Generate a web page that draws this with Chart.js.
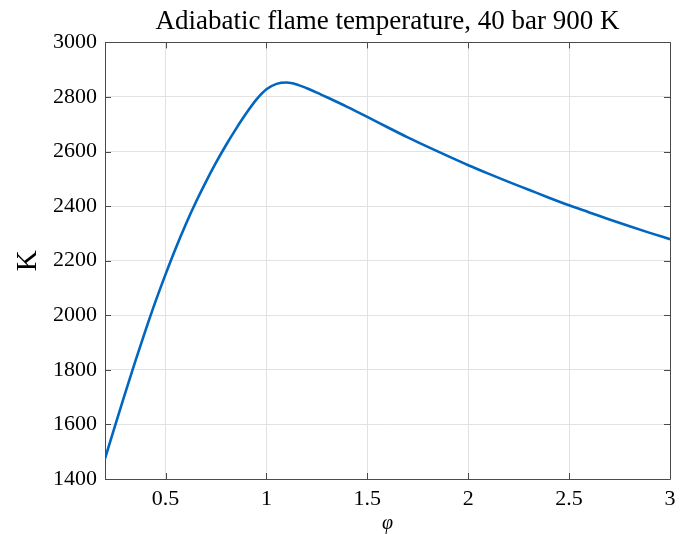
<!DOCTYPE html>
<html>
<head>
<meta charset="utf-8">
<script src="https://cdn.jsdelivr.net/npm/chart.js@4/dist/chart.umd.min.js"></script>
<style>
html,body{margin:0;padding:0;background:#fff;}
#wrap{width:690px;height:534px;}
</style>
</head>
<body>
<div id="wrap"><canvas id="c" width="690" height="534"></canvas></div>
<script>
// Data
const phi = [0.2,0.25,0.3,0.35,0.4,0.45,0.5,0.55,0.6,0.65,0.7,0.75,0.8,0.85,0.9,0.95,1.0,1.05,1.1,1.15,1.2,1.25,1.3,1.4,1.5,1.6,1.7,1.8,1.9,2.0,2.1,2.2,2.3,2.4,2.5,2.6,2.7,2.8,2.9,3.0];
const flameTemp = [1475,1596,1715,1831,1943,2050,2150,2245,2333,2414,2489,2559,2624,2684,2740,2790,2828,2848,2853,2846,2832,2816,2799,2764,2727,2689,2652,2617,2583,2550,2519,2489,2460,2431,2403,2377,2351,2326,2302,2279];
const xTickValues = [0.5,1,1.5,2,2.5,3];
const xTickLabels = ['0.5','1','1.5','2','2.5','3'];
const yTickValues = [1400,1600,1800,2000,2200,2400,2600,2800,3000];
const yTickLabels = ['1400','1600','1800','2000','2200','2400','2600','2800','3000'];
const titleText = 'Adiabatic flame temperature, 40 bar 900 K';
const xTitle = 'φ';
const yTitle = 'K';

const points = phi.map((x,i)=>({x:x,y:flameTemp[i]}));
const SERIF = "'Liberation Serif', 'DejaVu Serif', serif";
const AXIS_COLOR = '#4a4a4a';

const boxPlugin = {
  id:'boxTicks',
  afterDraw(chart){
    const ctx = chart.ctx, a = chart.chartArea;
    const xs = chart.scales.x, ys = chart.scales.y;
    ctx.save();
    ctx.strokeStyle = AXIS_COLOR;
    ctx.lineWidth = 1;
    ctx.beginPath();
    ctx.rect(Math.round(a.left)+0.5, Math.round(a.top)+0.5, Math.round(a.right-a.left), Math.round(a.bottom-a.top));
    ctx.stroke();
    const L = 6;
    ctx.beginPath();
    xTickValues.forEach(v=>{
      const px = Math.round(xs.getPixelForValue(v))+0.5;
      ctx.moveTo(px,a.bottom); ctx.lineTo(px,a.bottom-L);
      ctx.moveTo(px,a.top); ctx.lineTo(px,a.top+L);
    });
    yTickValues.forEach(v=>{
      const py = Math.round(ys.getPixelForValue(v))+0.5;
      ctx.moveTo(a.left,py); ctx.lineTo(a.left+L,py);
      ctx.moveTo(a.right,py); ctx.lineTo(a.right-L,py);
    });
    ctx.stroke();
    ctx.restore();
  }
};

new Chart(document.getElementById('c'), {
  type:'line',
  data:{datasets:[{
    data:points,
    borderColor:'#0066bf',
    borderWidth:2.6,
    pointRadius:0,
    cubicInterpolationMode:'monotone',
    fill:false
  }]},
  options:{
    responsive:false,
    animation:false,
    devicePixelRatio:1,
    layout:{padding:{left:0,right:20,top:0,bottom:0}},
    plugins:{
      legend:{display:false},
      tooltip:{enabled:false},
      title:{display:true,text:titleText,color:'#000',fullSize:false,
        font:{family:SERIF,size:27,weight:'normal'},padding:{top:6,bottom:4}}
    },
    scales:{
      x:{type:'linear',min:0.2,max:3,
        afterBuildTicks(s){ s.ticks = xTickValues.map(v=>({value:v})); },
        afterFit(s){ s.height = 55; },
        ticks:{color:'#000',font:{family:SERIF,size:22},padding:7,maxRotation:0,autoSkip:false,
          callback:(v)=>{const i=xTickValues.indexOf(v);return i>=0?xTickLabels[i]:'';}},
        grid:{color:'#e2e2e2',drawTicks:false},
        border:{display:false},
        title:{display:true,text:xTitle,color:'#000',font:{family:SERIF,size:20,style:'italic',lineHeight:1},padding:{top:0,bottom:0}}
      },
      y:{type:'linear',min:1400,max:3000,
        afterBuildTicks(s){ s.ticks = yTickValues.map(v=>({value:v})); },
        afterFit(s){ s.width = 105; },
        ticks:{color:'#000',font:{family:SERIF,size:22},padding:8,autoSkip:false,
          callback:(v)=>{const i=yTickValues.indexOf(v);return i>=0?yTickLabels[i]:'';}},
        grid:{color:'#e2e2e2',drawTicks:false},
        border:{display:false},
        title:{display:true,text:yTitle,color:'#000',font:{family:SERIF,size:29},padding:{top:11,bottom:0}}
      }
    }
  },
  plugins:[boxPlugin]
});
</script>
</body>
</html>
